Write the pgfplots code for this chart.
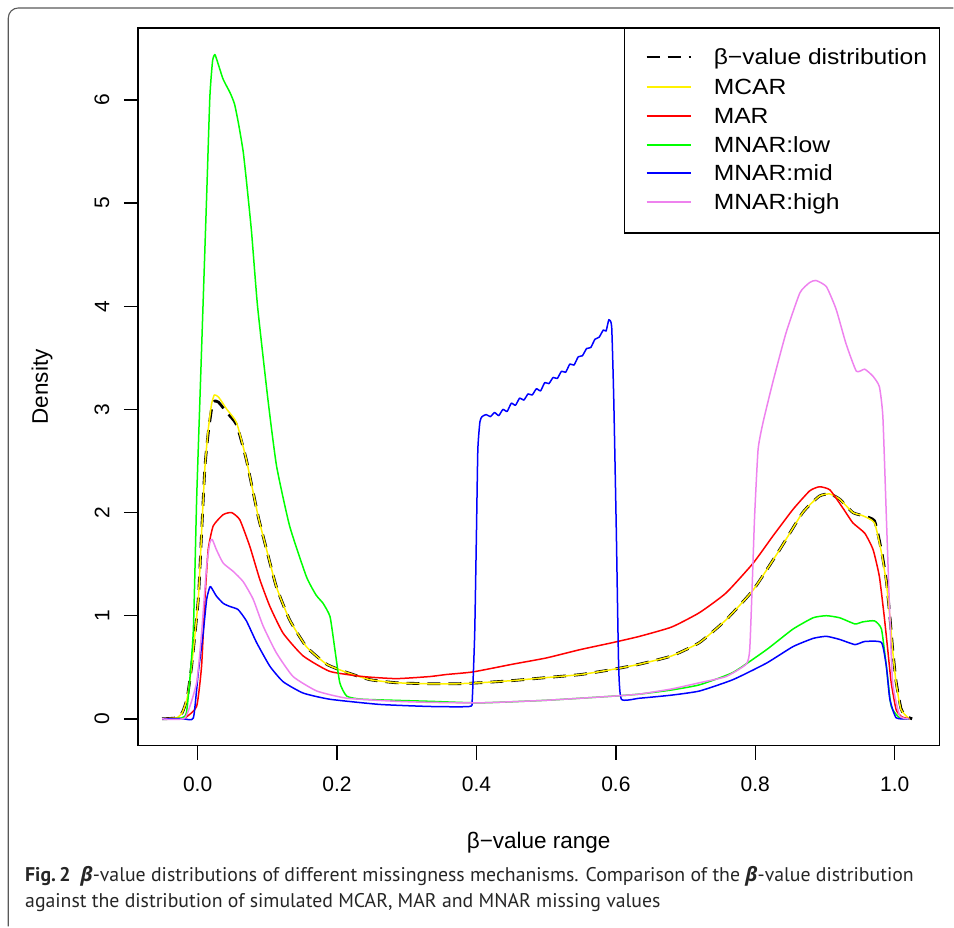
\documentclass[border=0pt]{standalone}
\usepackage{fontspec}
\setmainfont{Liberation Sans}
\newfontfamily\capfont{PT Sans}
\newfontfamily\betafont{Open Sans}
\usepackage{pgfplots}
\pgfplotsset{compat=1.18}

\definecolor{rviolet}{HTML}{EE82EE}
\newcommand{\legtext}[1]{\scalebox{1.12}[1]{#1}}

\begin{document}
\begin{tikzpicture}
\path (0pt,0pt) rectangle (954pt,927pt);
% outer figure frame (only left and top edges visible)
\draw[black!65, line width=1.1pt] (8.3pt,0pt) -- (8.3pt,909pt) arc[start angle=180,end angle=90,radius=10pt] -- (954pt,919pt);

\begin{axis}[
    at={(138pt,181pt)}, anchor=south west,
    width=802pt, height=718pt, scale only axis,
    xmin=-0.0856, xmax=1.0642, ymin=-0.259, ymax=6.698,
    axis line style={line width=1.6pt},
    xtick={0,0.2,0.4,0.6,0.8,1.0},
    xticklabels={0.0,0.2,0.4,0.6,0.8,1.0},
    ytick={0,1,2,3,4,5,6},
    tick align=outside, major tick length=14pt,
    xtick pos=bottom, ytick pos=left,
    tick style={line width=1.3pt, black},
    ticklabel style={font=\fontsize{21}{21}\selectfont},
    /pgf/number format/assume math mode=true,
    x tick label style={yshift=-14pt},
    y tick label style={rotate=90, anchor=south, yshift=11pt},
    xlabel={β−value range},
    ylabel={Density},
    label style={font=\fontsize{22.5}{22.5}\selectfont},
    xlabel style={at={(axis description cs:0.5,0)}, anchor=center, yshift=-97pt},
    ylabel style={at={(axis description cs:0,0.5)}, anchor=center, yshift=96pt},
    every axis plot/.append style={line join=round, smooth, tension=0.3},
    clip=false,
]

% beta-value distribution
\addplot[black, line width=2.8pt, dash pattern=on 13pt off 8pt] coordinates {
(-0.051,0) (-0.03,0.01) (-0.022,0.06) (-0.015,0.2) (-0.0086,0.51) (0.001,1.16)
(0.0057,1.8) (0.0105,2.44) (0.0152,2.77) (0.020,3.0) (0.024,3.08) (0.03,3.07)
(0.042,2.97) (0.056,2.85) (0.070,2.51) (0.087,1.96) (0.099,1.64) (0.113,1.28)
(0.132,0.96) (0.156,0.70) (0.185,0.53) (0.214,0.45) (0.247,0.38) (0.285,0.35)
(0.333,0.34) (0.371,0.34) (0.405,0.35) (0.45,0.37) (0.50,0.40) (0.55,0.43)
(0.596,0.48) (0.634,0.53) (0.68,0.61) (0.720,0.74) (0.758,0.96) (0.797,1.25)
(0.835,1.64) (0.868,2.00) (0.892,2.16) (0.907,2.18) (0.921,2.13) (0.940,2.00)
(0.954,1.97) (0.971,1.92) (0.981,1.63) (0.988,1.34) (0.993,1.0) (0.997,0.68)
(1.002,0.36) (1.009,0.1) (1.015,0.03) (1.025,0)
};

% MCAR
\addplot[yellow, line width=1.5pt] coordinates {
(-0.051,0) (-0.03,0.01) (-0.022,0.06) (-0.015,0.2) (-0.0086,0.51) (0.001,1.16)
(0.0057,1.8) (0.0105,2.44) (0.0152,2.8) (0.020,3.05) (0.024,3.14) (0.03,3.12)
(0.042,3.0) (0.056,2.87) (0.070,2.51) (0.087,1.96) (0.099,1.64) (0.113,1.28)
(0.132,0.96) (0.156,0.70) (0.185,0.53) (0.214,0.45) (0.247,0.38) (0.285,0.35)
(0.333,0.34) (0.371,0.34) (0.405,0.35) (0.45,0.37) (0.50,0.40) (0.55,0.43)
(0.596,0.48) (0.634,0.53) (0.68,0.61) (0.720,0.74) (0.758,0.96) (0.797,1.25)
(0.835,1.64) (0.868,2.00) (0.892,2.16) (0.907,2.18) (0.921,2.13) (0.940,2.00)
(0.954,1.97) (0.971,1.90) (0.981,1.61) (0.988,1.32) (0.993,0.99) (0.997,0.67)
(1.002,0.35) (1.009,0.09) (1.021,0)
};

% MAR
\addplot[red, line width=1.5pt] coordinates {
(-0.051,0) (-0.03,0.005) (-0.018,0.01) (-0.0014,0.12) (0.0057,0.51) (0.0105,1.16)
(0.0152,1.64) (0.0224,1.87) (0.0367,1.98) (0.0487,2.00) (0.0606,1.93) (0.075,1.67)
(0.0893,1.35) (0.1037,1.09) (0.1227,0.83) (0.1514,0.61) (0.1897,0.46) (0.2374,0.41)
(0.285,0.39) (0.333,0.41) (0.357,0.43) (0.395,0.455) (0.452,0.53) (0.500,0.59)
(0.548,0.67) (0.596,0.74) (0.634,0.80) (0.68,0.89) (0.720,1.03) (0.758,1.22)
(0.797,1.51) (0.825,1.77) (0.854,2.03) (0.878,2.21) (0.892,2.25) (0.907,2.22)
(0.926,2.04) (0.940,1.90) (0.957,1.80) (0.969,1.64) (0.978,1.38) (0.985,0.99)
(0.990,0.67) (0.995,0.35) (1.002,0.09) (1.01,0.02) (1.021,0)
};

% MNAR:low
\addplot[green, line width=1.5pt] coordinates {
(-0.051,0) (-0.03,0.005) (-0.016,0.06) (-0.0063,0.83) (-0.0014,2.12) (0.0033,3.09)
(0.0129,5.05) (0.0176,6.03) (0.0215,6.38) (0.0248,6.44) (0.029,6.36) (0.0367,6.2)
(0.0466,6.07) (0.053,5.96) (0.059,5.76) (0.0654,5.5) (0.0703,5.2) (0.0774,4.72)
(0.086,4.0) (0.101,3.09) (0.1133,2.45) (0.132,1.87) (0.156,1.38) (0.170,1.2)
(0.180,1.12) (0.190,0.99) (0.197,0.67) (0.204,0.35) (0.214,0.22) (0.237,0.19)
(0.333,0.17) (0.405,0.155) (0.5,0.18) (0.596,0.22) (0.634,0.24) (0.68,0.28)
(0.720,0.33) (0.768,0.45) (0.816,0.67) (0.854,0.87) (0.883,0.98) (0.902,1.00)
(0.921,0.98) (0.943,0.92) (0.954,0.94) (0.971,0.95) (0.981,0.87) (0.988,0.51)
(0.995,0.12) (1.007,0.01) (1.02,0)
};

% MNAR:mid
\addplot[blue, line width=1.5pt] coordinates {
(-0.051,0) (-0.02,0.0) (-0.006,0.01) (0.001,0.45) (0.008,0.83) (0.013,1.16)
(0.0176,1.28) (0.020,1.27) (0.027,1.19) (0.0367,1.12) (0.046,1.09) (0.058,1.06)
(0.070,0.95) (0.0846,0.74) (0.1037,0.51) (0.1227,0.36) (0.1514,0.25) (0.1897,0.19)
(0.261,0.14) (0.333,0.12) (0.390,0.12) (0.394,0.19) (0.3975,0.83) (0.400,1.80)
(0.402,2.61) (0.405,2.88) (0.408,2.93) (0.414,2.95) (0.420,2.93) (0.426,2.97)
(0.432,2.94) (0.438,3.0) (0.444,2.98) (0.450,3.06) (0.456,3.04) (0.462,3.11)
(0.468,3.09) (0.474,3.15) (0.480,3.14) (0.486,3.2) (0.492,3.18) (0.498,3.26)
(0.504,3.25) (0.510,3.31) (0.516,3.30) (0.522,3.37) (0.528,3.36) (0.534,3.44)
(0.540,3.43) (0.546,3.51) (0.552,3.52) (0.558,3.59) (0.564,3.6) (0.570,3.68)
(0.576,3.7) (0.582,3.77) (0.586,3.76) (0.590,3.87) (0.594,3.80) (0.597,3.09)
(0.6007,1.80) (0.604,0.51) (0.608,0.19) (0.634,0.20) (0.68,0.23) (0.720,0.27)
(0.768,0.38) (0.816,0.54) (0.854,0.70) (0.883,0.78) (0.902,0.80) (0.921,0.77)
(0.943,0.72) (0.957,0.75) (0.981,0.74) (0.988,0.51) (0.993,0.19) (1.002,0.01)
(1.02,0)
};

% MNAR:high
\addplot[rviolet, line width=1.5pt] coordinates {
(-0.051,0) (-0.018,0.01) (-0.0014,0.35) (0.0057,0.83) (0.013,1.48) (0.0176,1.71)
(0.021,1.74) (0.027,1.64) (0.0367,1.51) (0.051,1.43) (0.0654,1.33) (0.0797,1.16)
(0.094,0.90) (0.113,0.64) (0.137,0.41) (0.171,0.27) (0.214,0.20) (0.285,0.17)
(0.333,0.16) (0.405,0.155) (0.5,0.18) (0.596,0.22) (0.634,0.24) (0.68,0.29)
(0.720,0.35) (0.758,0.41) (0.787,0.53) (0.792,0.67) (0.7957,1.32) (0.799,1.96)
(0.804,2.61) (0.811,2.87) (0.825,3.26) (0.844,3.74) (0.864,4.13) (0.878,4.23)
(0.887,4.25) (0.902,4.19) (0.916,3.97) (0.930,3.64) (0.945,3.37) (0.957,3.39)
(0.969,3.32) (0.978,3.22) (0.983,2.93) (0.988,1.96) (0.993,0.99) (0.997,0.35)
(1.007,0.03) (1.02,0)
};
\end{axis}

% legend
\draw[black, line width=1.3pt, fill=white] (625pt,694pt) rectangle (940pt,899pt);
\begin{scope}[every node/.style={anchor=base west, inner sep=0pt, font=\fontsize{22}{22}\selectfont}]
\draw[black, line width=2.8pt, dash pattern=on 13pt off 8pt] (647pt,870pt) -- (691pt,870pt);
\node at (714pt,862.5pt) {\legtext{β−value distribution}};
\draw[yellow, line width=1.5pt] (647pt,840pt) -- (691pt,840pt);
\node at (714pt,832.5pt) {\legtext{MCAR}};
\draw[red, line width=1.5pt] (647pt,811pt) -- (691pt,811pt);
\node at (714pt,803.5pt) {\legtext{MAR}};
\draw[green, line width=1.5pt] (647pt,782pt) -- (691pt,782pt);
\node at (714pt,774.5pt) {\legtext{MNAR:low}};
\draw[blue, line width=1.5pt] (647pt,754pt) -- (691pt,754pt);
\node at (714pt,746.5pt) {\legtext{MNAR:mid}};
\draw[rviolet, line width=1.5pt] (647pt,725pt) -- (691pt,725pt);
\node at (714pt,717.5pt) {\legtext{MNAR:high}};
\end{scope}

% caption
\begin{scope}[every node/.style={anchor=base west, inner sep=0pt, text=black!85, font=\capfont\fontsize{19.8}{19.8}\selectfont}]
\node at (25pt,45pt) {\textbf{Fig.\,2}\hspace{10pt}{\betafont\bfseries\itshape β}-value distributions of different missingness mechanisms. Comparison of the {\betafont\bfseries\itshape β}-value distribution};
\node at (25pt,19pt) {against the distribution of simulated MCAR, MAR and MNAR missing values};
\end{scope}
\end{tikzpicture}
\end{document}
